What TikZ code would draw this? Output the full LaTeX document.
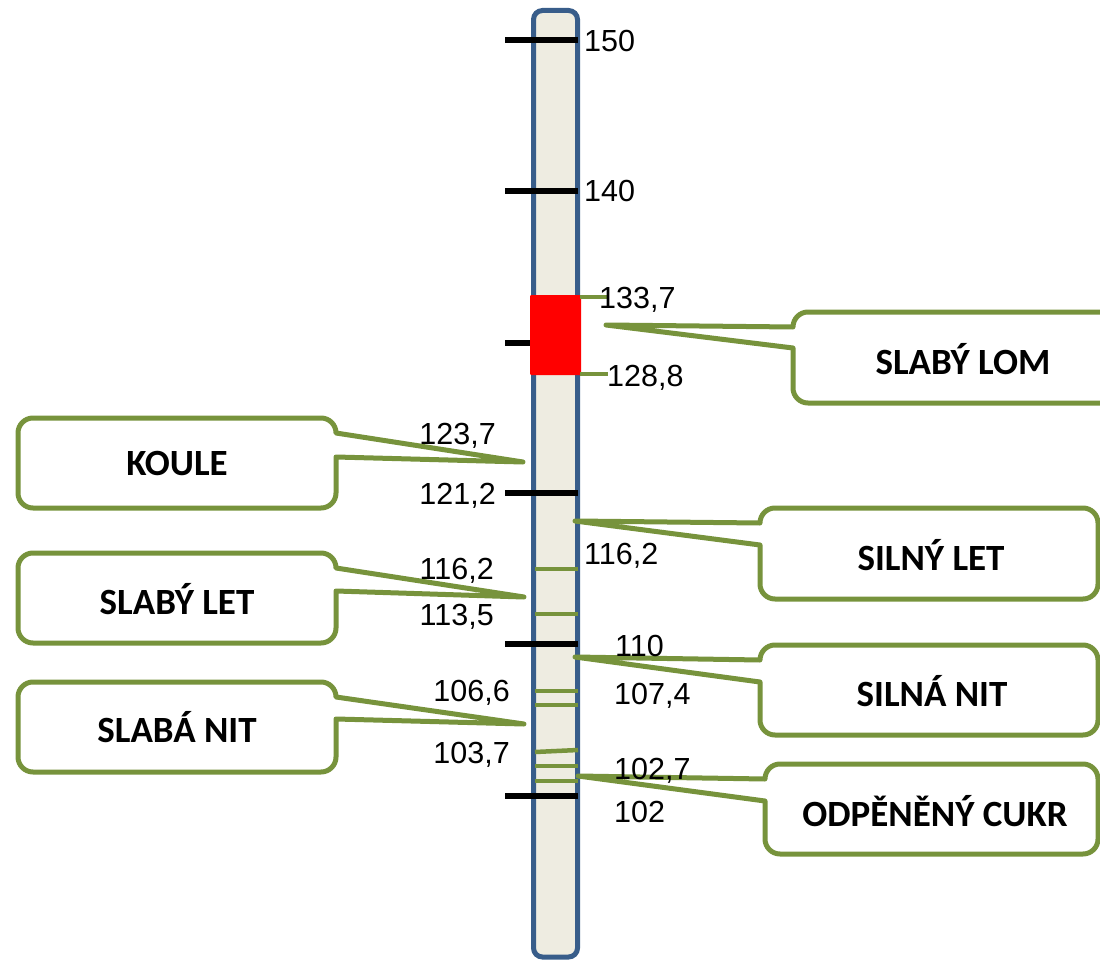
\documentclass[tikz,border=0pt]{standalone}
\usepackage{fontspec}
\setmainfont{Liberation Sans}
\newfontfamily\labfont{Carlito}
\definecolor{cgreen}{HTML}{77933C}
\definecolor{cblue}{HTML}{385D8A}
\definecolor{cbar}{HTML}{EEECE1}
\tikzset{
  callout/.style={draw=cgreen, line width=5pt, fill=white, line join=round},
  num/.style={inner sep=0pt, font=\fontsize{30.5}{34}\selectfont},
  lab/.style={inner sep=0pt, font=\labfont\bfseries\fontsize{37}{42}\selectfont},
  blacktick/.style={line width=5.5pt, black},
  greentick/.style={line width=4.5pt, cgreen},
}
% callout with box on the right, wedge on its left side: #1 tip, #2 L, #3 T, #4 R, #5 B, #6 lower attach y
\newcommand{\calloutRight}[6]{%
  \draw[callout] (#1) -- (#2,#3+15) arc[start angle=180,end angle=270,radius=15]
    -- (#4-15,#3) arc[start angle=270,end angle=360,radius=15]
    -- (#4,#5-15) arc[start angle=0,end angle=90,radius=15]
    -- (#2+15,#5) arc[start angle=90,end angle=180,radius=15]
    -- (#2,#6) -- cycle;}
% callout with box on the left, wedge on its right side
\newcommand{\calloutLeft}[6]{%
  \draw[callout] (#1) -- (#4,#3+15) arc[start angle=0,end angle=-90,radius=15]
    -- (#2+15,#3) arc[start angle=270,end angle=180,radius=15]
    -- (#2,#5-15) arc[start angle=180,end angle=90,radius=15]
    -- (#4-15,#5) arc[start angle=90,end angle=0,radius=15]
    -- (#4,#6) -- cycle;}
\begin{document}
\begin{tikzpicture}[x=1pt,y=1pt,yscale=-1]
\useasboundingbox (0,0) rectangle (1100,960);
% bar
\draw[cblue, line width=5pt, fill=cbar, rounded corners=9pt] (533.5,10.5) rectangle (577.5,957);
% black ticks
\coordinate (k150a) at (505,40);  \coordinate (k150b) at (578,40);
\coordinate (k140a) at (505,191); \coordinate (k140b) at (578,191);
\coordinate (k130a) at (505,343); \coordinate (k130b) at (533,343);
\coordinate (k120a) at (505,493); \coordinate (k120b) at (578,493);
\coordinate (k110a) at (505,644); \coordinate (k110b) at (578,644);
\coordinate (k100a) at (505,796); \coordinate (k100b) at (578,796);
\foreach \t in {150,140,130,120,110,100} \draw[blacktick] (k\t a) -- (k\t b);
% red zone
\fill[red, rounded corners=1pt] (530,295) rectangle (581,375);
% green ticks in bar
\coordinate (g1a) at (535,569); \coordinate (g1b) at (578,569);
\coordinate (g2a) at (535,614); \coordinate (g2b) at (578,614);
\coordinate (g3a) at (535,691); \coordinate (g3b) at (578,691);
\coordinate (g4a) at (535,705); \coordinate (g4b) at (578,705);
\coordinate (g5a) at (535,752); \coordinate (g5b) at (578,750);
\coordinate (g6a) at (535,766); \coordinate (g6b) at (578,766);
\coordinate (g7a) at (535,781); \coordinate (g7b) at (578,781);
\coordinate (g8a) at (580,297); \coordinate (g8b) at (608,297);
\coordinate (g9a) at (580,374); \coordinate (g9b) at (608,374);
\foreach \g in {1,...,9} \draw[greentick] (g\g a) -- (g\g b);
% callout tips
\coordinate (tipLom) at (606,325);
\coordinate (tipKoule) at (523,462);
\coordinate (tipSilnyLet) at (575,521);
\coordinate (tipSlabyLet) at (524,597);
\coordinate (tipSilnaNit) at (575,657);
\coordinate (tipSlabaNit) at (524,724);
\coordinate (tipCukr) at (578,776);
% callouts
\calloutRight{tipLom}{793}{312}{1140}{403}{348}
\calloutRight{tipSilnyLet}{760}{508}{1098}{599}{545}
\calloutRight{tipSilnaNit}{760}{645}{1098}{735}{682}
\calloutRight{tipCukr}{765}{764}{1098}{854}{801}
\calloutLeft{tipKoule}{18}{418}{336}{508}{457}
\calloutLeft{tipSlabyLet}{18}{553}{336}{643}{591}
\calloutLeft{tipSlabaNit}{18}{682}{336}{772}{719}
% callout texts
\node[lab] (tLom) at (963,359) {SLABÝ LOM};
\node[lab] (tKoule) at (177,464) {KOULE};
\node[lab] (tSilnyLet) at (931,555) {SILNÝ LET};
\node[lab] (tSlabyLet) at (177,599) {SLABÝ LET};
\node[lab] (tSilnaNit) at (932,691) {SILNÁ NIT};
\node[lab] (tSlabaNit) at (177,727) {SLABÁ NIT};
\node[lab] (tCukr) at (935,811) {ODPĚNĚNÝ CUKR};
% numbers
\node[num, anchor=base west] (n150) at (584,52) {150};
\node[num, anchor=base west] (n140) at (584,202) {140};
\node[num, anchor=base west] (n1337) at (599,308) {133,7};
\node[num, anchor=base west] (n1288) at (607,386) {128,8};
\node[num, anchor=base east] (n1237) at (496,444) {123,7};
\node[num, anchor=base east] (n1212) at (496,504) {121,2};
\node[num, anchor=base west] (n1162r) at (584,564) {116,2};
\node[num, anchor=base east] (n1162l) at (494,579) {116,2};
\node[num, anchor=base east] (n1135) at (494,625) {113,5};
\node[num, anchor=base west] (n110) at (615,656) {110};
\node[num, anchor=base east] (n1066) at (510,701) {106,6};
\node[num, anchor=base west] (n1074) at (614,704) {107,4};
\node[num, anchor=base east] (n1037) at (510,763) {103,7};
\node[num, anchor=base west] (n1027) at (614,779) {102,7};
\node[num, anchor=base west] (n102) at (614,822) {102};
\end{tikzpicture}
\end{document}
